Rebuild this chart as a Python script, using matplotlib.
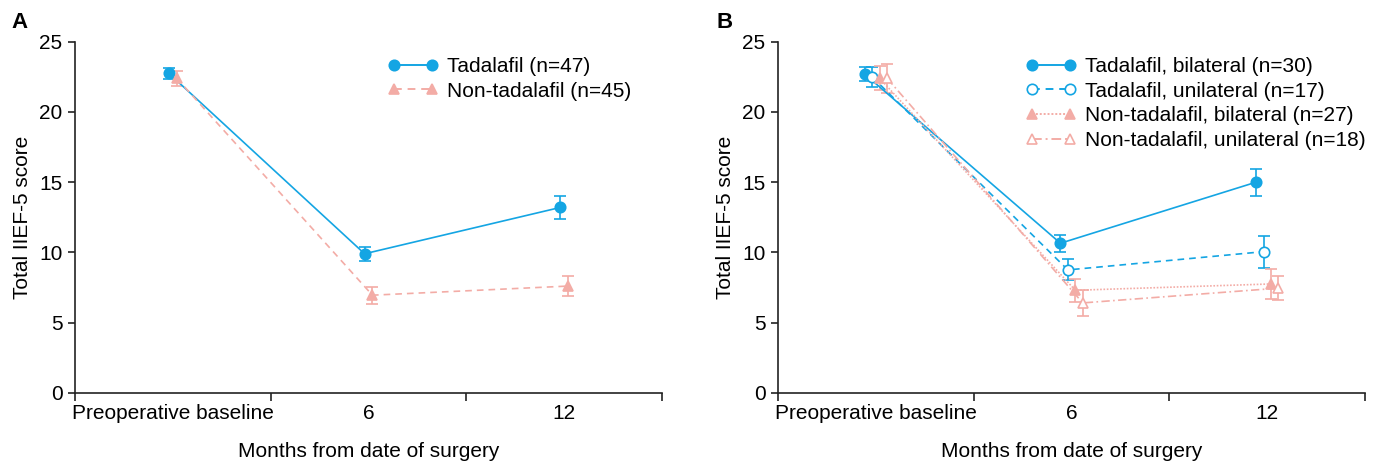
import matplotlib
matplotlib.use("Agg")
import matplotlib.pyplot as plt
from matplotlib.lines import Line2D

plt.rcParams['font.family'] = ['Liberation Sans', 'DejaVu Sans']

categories = ['Preoperative baseline', '6', '12']

# panel A
tad_mean = [22.75, 9.9, 13.2]
tad_err = [0.4, 0.5, 0.85]
non_mean = [22.4, 6.95, 7.6]
non_err = [0.55, 0.6, 0.7]

# panel B
tb_mean = [22.7, 10.65, 15.0]
tb_err = [0.5, 0.6, 0.95]
tu_mean = [22.5, 8.75, 10.05]
tu_err = [0.7, 0.75, 1.15]
nb_mean = [22.4, 7.3, 7.75]
nb_err = [0.85, 0.8, 1.05]
nu_mean = [22.4, 6.4, 7.45]
nu_err = [1.05, 0.9, 0.85]

blue = '#14a5e3'
pink = '#f3aca6'
axcol = '#222222'
fs = 15

fig = plt.figure(figsize=(13.81, 4.61), dpi=100)
axA = fig.add_axes([0.0543, 0.148, 0.4251, 0.7614])
axB = fig.add_axes([0.5634, 0.148, 0.4251, 0.7614])

def style(ax):
    ax.set_xlim(0, 3)
    ax.set_ylim(0, 25)
    ax.spines['top'].set_visible(False)
    ax.spines['right'].set_visible(False)
    for s in ['left', 'bottom']:
        ax.spines[s].set_color(axcol)
        ax.spines[s].set_linewidth(1.2)
    ax.set_yticks([0, 5, 10, 15, 20, 25])
    ax.set_xticks([0, 1, 2, 3])
    ax.set_xticklabels([])
    ax.set_xticks([0.5, 1.5, 2.5], minor=True)
    ax.set_xticklabels(categories, minor=True)
    ax.tick_params(axis='x', which='minor', length=0, pad=8, labelsize=fs)
    ax.tick_params(axis='x', which='major', length=6, width=1.2, color=axcol)
    ax.tick_params(axis='y', length=5, width=1.2, color=axcol, labelsize=fs, pad=4)
    ax.set_xlabel('Months from date of surgery', fontsize=fs, labelpad=14)
    ax.set_ylabel('Total IIEF-5 score', fontsize=fs, labelpad=5)

pos = [0.5, 1.5, 2.5]

def draw(ax, shift, mean, err, color, ls, marker, mfc, label):
    x = [p + shift for p in pos]
    ax.errorbar(x, mean, yerr=err, color=color, ls=ls, lw=1.2,
                marker=marker, ms=7.5, mfc=mfc, mec=color, mew=1.2,
                capsize=4.5, elinewidth=1.2, capthick=1.2)
    return Line2D([], [], color=color, ls=ls, lw=1.4, marker=marker, ms=7.5,
                  mfc=mfc, mec=color, mew=1.2, label=label)

for ax in (axA, axB):
    style(ax)

hA = [
    draw(axA, -0.02, tad_mean, tad_err, blue, '-', 'o', blue, 'Tadalafil (n=47)'),
    draw(axA, 0.02, non_mean, non_err, pink, (0, (4, 3)), '^', pink, 'Non-tadalafil (n=45)'),
]
hB = [
    draw(axB, -0.057, tb_mean, tb_err, blue, '-', 'o', blue, 'Tadalafil, bilateral (n=30)'),
    draw(axB, -0.019, tu_mean, tu_err, blue, (0, (4, 3)), 'o', 'white', 'Tadalafil, unilateral (n=17)'),
    draw(axB, 0.019, nb_mean, nb_err, pink, (0, (1, 1)), '^', pink, 'Non-tadalafil, bilateral (n=27)'),
    draw(axB, 0.057, nu_mean, nu_err, pink, (0, (5, 2, 1, 2)), '^', 'white', 'Non-tadalafil, unilateral (n=18)'),
]

for ax, h, loc in [(axA, hA, (0.519, 0.98)), (axB, hB, (0.408, 0.98))]:
    ax.legend(handles=h, loc='upper left', bbox_to_anchor=loc, frameon=False, fontsize=15,
              numpoints=2, handlelength=2.4, handletextpad=0.45, labelspacing=0.27,
              borderaxespad=0)

fig.text(0.008, 0.975, 'A', fontsize=16, fontweight='bold', va='top')
fig.text(0.519, 0.975, 'B', fontsize=16, fontweight='bold', va='top')

fig.savefig('out.png', dpi=100)
